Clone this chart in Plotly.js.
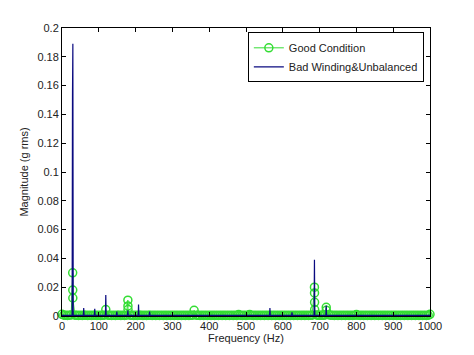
<!DOCTYPE html>
<html>
<head>
<meta charset="utf-8">
<script src="https://cdn.plot.ly/plotly-3.0.1.min.js"></script>
<style>html,body{margin:0;padding:0;background:#fff;}#chart{width:474px;height:355px;}</style>
</head>
<body>
<div id="chart"></div>
<script>
// Good Condition spectrum: low-level floor (Hz, g rms)
const goodBaseFreq = [0,5,10,15,20,25,35,40,45,50,55,60,65,70,75,80,85,90,95,100,
  105,110,115,125,130,135,140,145,150,155,160,165,170,175,185,190,195,200,205,210,
  215,220,225,230,235,240,245,250,255,260,265,270,275,280,285,290,295,300,305,310,
  315,320,325,330,335,340,345,350,355,365,370,375,380,385,390,395,400,405,410,415,
  420,425,430,435,440,445,450,455,460,465,470,475,480,485,490,495,500,505,510,515,
  520,525,530,535,540,545,550,555,560,565,570,575,580,585,590,595,600,605,610,615,
  620,625,630,635,640,645,650,655,660,665,670,675,680,692,695,700,705,710,715,725,
  730,735,740,745,750,755,760,765,770,775,780,785,790,795,800,805,810,815,820,825,
  830,835,840,845,850,855,860,865,870,875,880,885,890,895,900,905,910,915,920,925,
  930,935,940,945,950,955,960,965,970,975,980,985,990,995,1000];
const goodBaseMag = [0.0012,0.0006,0.0005,0.0004,0.0006,0.0007,0.0006,0.0005,0.0004,0.0005,0.0004,0.0006,0.0005,0.0004,0.0005,0.0004,0.0005,0.0006,0.0004,0.0005,
  0.0004,0.0005,0.0006,0.0006,0.0005,0.0004,0.0005,0.0004,0.0006,0.0005,0.0004,0.0005,0.0004,0.0006,0.0006,0.0005,0.0004,0.0005,0.0004,0.0006,
  0.0005,0.0004,0.0005,0.0004,0.0005,0.0006,0.0004,0.0005,0.0004,0.0005,0.0004,0.0005,0.0004,0.0005,0.0004,0.0005,0.0004,0.0005,0.0004,0.0005,
  0.0004,0.0005,0.0004,0.0005,0.0004,0.0005,0.0004,0.0005,0.0006,0.0006,0.0005,0.0004,0.0005,0.0004,0.0005,0.0004,0.0005,0.0004,0.0005,0.0004,
  0.0005,0.0004,0.0005,0.0004,0.0005,0.0004,0.0005,0.0004,0.0005,0.0004,0.0005,0.0004,0.0010,0.0005,0.0004,0.0005,0.0004,0.0005,0.0010,0.0005,
  0.0004,0.0005,0.0004,0.0005,0.0004,0.0005,0.0004,0.0005,0.0004,0.0005,0.0004,0.0005,0.0004,0.0005,0.0004,0.0005,0.0004,0.0005,0.0004,0.0005,
  0.0004,0.0005,0.0004,0.0005,0.0004,0.0005,0.0004,0.0005,0.0004,0.0005,0.0004,0.0005,0.0006,0.0007,0.0006,0.0005,0.0006,0.0005,0.0007,0.0008,
  0.0006,0.0005,0.0004,0.0005,0.0004,0.0005,0.0004,0.0005,0.0004,0.0005,0.0004,0.0005,0.0004,0.0005,0.0010,0.0005,0.0004,0.0005,0.0004,0.0005,
  0.0004,0.0005,0.0004,0.0005,0.0004,0.0005,0.0004,0.0005,0.0004,0.0005,0.0004,0.0005,0.0004,0.0005,0.0004,0.0005,0.0004,0.0005,0.0004,0.0005,
  0.0004,0.0005,0.0004,0.0005,0.0004,0.0005,0.0004,0.0005,0.0004,0.0005,0.0004,0.0005,0.0004,0.0005,0.0012];
// Good Condition spectrum: harmonic peaks (Hz, g rms)
const goodPeakFreq = [29,29.2,29.4,119,179,179.2,179.4,359,686,686.2,686.4,686.6,718,718.2];
const goodPeakMag  = [0.030,0.018,0.0125,0.0045,0.011,0.007,0.0045,0.004,0.020,0.016,0.0095,0.0045,0.006,0.004];

// Bad Winding & Unbalanced spectrum (Hz, g rms)
const badFreq = [0,27.5,28.5,29,29.5,30.5,58,59,60,88,89,90,118,119,120,148,149,150,178,179,180,207,208,209,237,238,239,564,565,566,624,625,626,685,686,687,717,718,719,1000];
const badMag  = [0.0004,0.0004,0.153,0.02,0.189,0.0004,0.0004,0.0055,0.0004,0.0004,0.005,0.0004,0.0004,0.0146,0.0004,0.0004,0.003,0.0004,0.0004,0.004,0.0004,0.0004,0.008,0.0004,0.0004,0.003,0.0004,0.0004,0.0055,0.0004,0.0004,0.0025,0.0004,0.0004,0.039,0.0004,0.0004,0.0072,0.0004,0.0004];

const seriesNames = ["Good Condition", "Bad Winding&Unbalanced"];
const yTicks = [0,0.02,0.04,0.06,0.08,0.1,0.12,0.14,0.16,0.18,0.2];
const yTickText = ["0","0.02","0.04","0.06","0.08","0.1","0.12","0.14","0.16","0.18","0.2"];
const xTicks = [0,100,200,300,400,500,600,700,800,900,1000];

// merge floor + peaks in frequency order
const goodPts = goodBaseFreq.map((f, i) => [f, goodBaseMag[i]])
  .concat(goodPeakFreq.map((f, i) => [f, goodPeakMag[i]]))
  .sort((a, b) => a[0] - b[0]);

const traces = [
  {x: goodPts.map(p => p[0]), y: goodPts.map(p => p[1]), name: seriesNames[0], type: "scatter", mode: "lines+markers",
   line: {color: "#33dd33", width: 1},
   marker: {symbol: "circle-open", size: 8, color: "#33dd33", line: {width: 1.5, color: "#33dd33"}},
   cliponaxis: false},
  {x: badFreq, y: badMag, name: seriesNames[1], type: "scatter", mode: "lines",
   line: {color: "#0a0a80", width: 1.2}, cliponaxis: false}
];

const axisCommon = {showgrid: false, zeroline: false, showline: true, linecolor: "#000", linewidth: 1,
  mirror: "ticks", ticks: "inside", ticklen: 4, tickcolor: "#000",
  tickfont: {family: "Liberation Sans, Arial, sans-serif", size: 11, color: "#222"}};

const layout = {
  width: 474, height: 355,
  margin: {l: 62, r: 44, t: 28, b: 39},
  paper_bgcolor: "#fff", plot_bgcolor: "#fff",
  font: {family: "Liberation Sans, Arial, sans-serif", size: 11, color: "#222"},
  showlegend: true,
  legend: {x: 0.505, y: 0.985, xanchor: "left", yanchor: "top", bgcolor: "#fff",
    bordercolor: "#000", borderwidth: 1, font: {size: 11, color: "#222"},
    tracegroupgap: 0, itemwidth: 30},
  xaxis: Object.assign({}, axisCommon, {range: [0, 1000], tickvals: xTicks,
    title: {text: "Frequency (Hz)", font: {size: 11, color: "#222"}, standoff: 2}}),
  yaxis: Object.assign({}, axisCommon, {range: [0, 0.2], tickvals: yTicks, ticktext: yTickText,
    title: {text: "Magnitude (g rms)", font: {size: 11, color: "#222"}, standoff: 6}})
};

Plotly.newPlot("chart", traces, layout, {displayModeBar: false, staticPlot: true});
</script>
</body>
</html>
